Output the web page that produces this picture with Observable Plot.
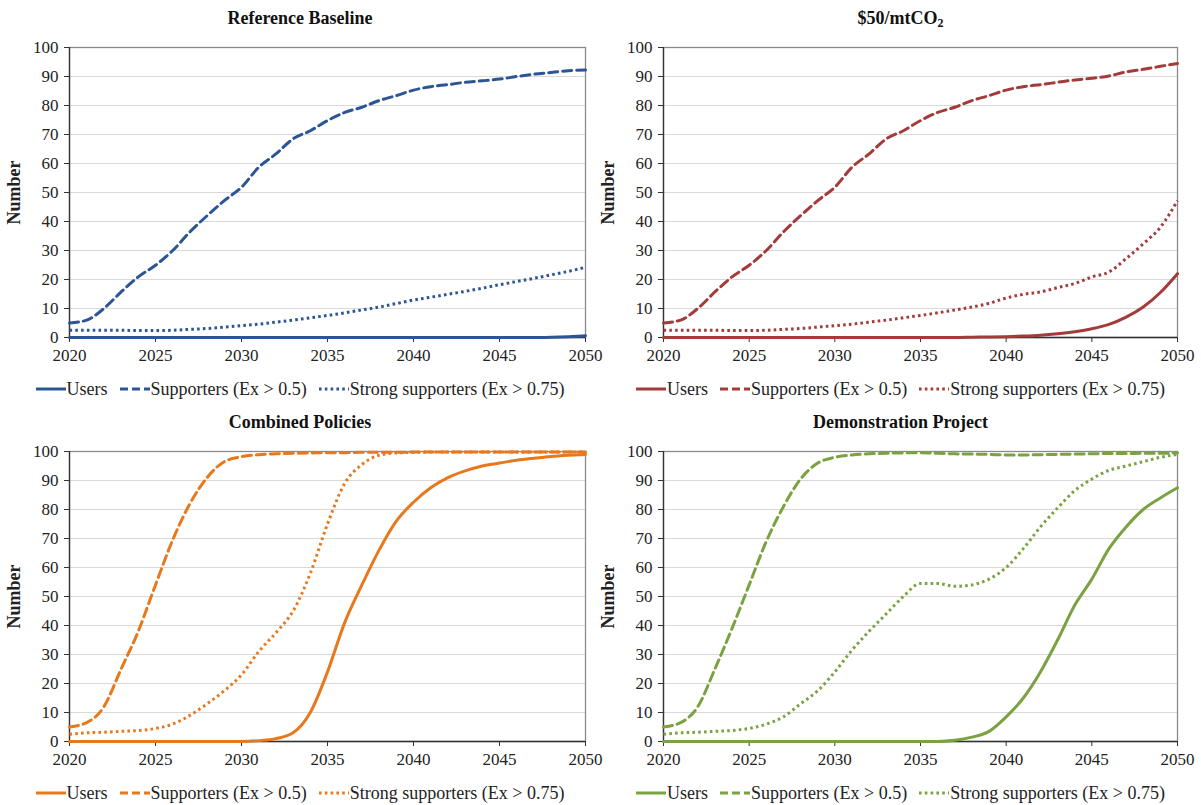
<!DOCTYPE html>
<html>
<head>
<meta charset="utf-8">
<script src="https://cdn.jsdelivr.net/npm/d3@7"></script>
<script src="https://cdn.jsdelivr.net/npm/@observablehq/plot@0.6"></script>
<style>
  body { margin: 0; background: #fff; font-family: "Liberation Serif", "Times New Roman", serif; }
  #root { position: relative; width: 1201px; height: 805px; overflow: hidden; background: #fff; }
  .panel { position: absolute; height: 404px; }
  .title { position: absolute; left: 0; right: 0; text-align: center; font-weight: bold; font-size: 18px; color: #111; line-height: 20px; }
  .title sub { font-size: 12px; vertical-align: -3px; line-height: 0; }
  .plotwrap { position: absolute; left: 0; }
  .legend { position: absolute; left: 0; right: 0; display: flex; justify-content: center; align-items: center; font-size: 18px; color: #222; line-height: 20px; white-space: nowrap; }
  .legend .item { display: flex; align-items: center; margin: 0 6px; }
  .legend svg { display: block; margin-right: 1px; }
  #root svg text { font-family: "Liberation Serif", "Times New Roman", serif !important; }
  #root svg [aria-label="y-axis tick label"] text, #root svg [aria-label="x-axis tick label"] text { font-size: 17px; }
  #root svg [aria-label="y-axis label"] text { font-weight: bold; font-size: 18px; }
</style>
</head>
<body>
<div id="root"></div>
<script>
// ---------- data ----------
const years = [2020,2021,2022,2023,2024,2025,2026,2027,2028,2029,2030,2031,2032,2033,2034,2035,2036,2037,2038,2039,2040,2041,2042,2043,2044,2045,2046,2047,2048,2049,2050];
const xTicks = [2020,2025,2030,2035,2040,2045,2050];
const yTicks = [0,10,20,30,40,50,60,70,80,90,100];
const seriesNames = ["Users", "Supporters (Ex > 0.5)", "Strong supporters (Ex > 0.75)"];
const panelTitles = ["Reference Baseline", "$50/mtCO<sub>2</sub>", "Combined Policies", "Demonstration Project"];
const panelColors = ["#2C5596", "#A23B3A", "#E8781C", "#7AA240"];

// Reference Baseline
const baseUsers  = [0,0,0,0,0,0,0,0,0,0,0,0,0,0,0,0,0,0,0,0,0,0,0,0,0,0,0,0,0.1,0.3,0.6];
const baseSupp   = [5,6,10,15.7,20.9,24.9,30,36.4,42,47.2,51.8,58.7,63.3,68.5,71.3,74.8,77.6,79.4,81.7,83.4,85.3,86.5,87.2,88,88.5,89.1,90,90.8,91.4,92,92.2];
const baseStrong = [2.5,2.5,2.5,2.5,2.4,2.4,2.5,2.8,3.1,3.6,4.1,4.6,5.3,6,6.8,7.6,8.5,9.5,10.5,11.7,12.9,13.9,14.9,15.9,17,18.2,19.3,20.4,21.6,22.8,24.2];

// $50/mtCO2
const c50Users  = [0,0,0,0,0,0,0,0,0,0,0,0,0,0,0,0,0,0,0.1,0.2,0.3,0.5,0.8,1.3,2,3,4.5,7,10.5,15.5,22];
const c50Supp   = [5,6,10,15.7,20.9,24.9,30,36.4,42,47.2,51.8,58.7,63.3,68.5,71.3,74.8,77.6,79.4,81.7,83.4,85.3,86.5,87.2,88,88.8,89.4,90.2,91.6,92.5,93.5,94.5];
const c50Strong = [2.5,2.5,2.5,2.5,2.4,2.4,2.5,2.8,3.1,3.6,4.1,4.6,5.3,6,6.8,7.6,8.5,9.5,10.5,11.8,13.6,14.9,15.7,17.2,18.6,20.9,22.6,27.2,32.3,38,47.2];

// Combined Policies
const combUsers  = [0,0,0,0,0,0,0,0,0,0,0,0.3,1,3,10,24,41,54,66,76,82.5,87.5,91,93.3,95,96,97,97.7,98.3,98.7,99];
const combSupp   = [5,6.5,12,25,38,54,69.5,82,91,96.5,98.2,98.9,99.2,99.4,99.5,99.6,99.6,99.7,99.7,99.7,99.8,99.8,99.8,99.8,99.8,99.8,99.8,99.8,99.8,99.8,99.8];
const combStrong = [2.5,3,3.2,3.5,3.8,4.5,6,9,13,17.5,23,31,37.5,45,58,75,89,95.5,98.7,99.5,99.7,99.8,99.8,99.8,99.8,99.8,99.8,99.8,99.8,99.8,99.8];

// Demonstration Project
const demoUsers  = [0,0,0,0,0,0,0,0,0,0,0,0,0,0,0,0,0,0.4,1.5,3.5,8.5,15,24,35,47,56,66.5,74,80,84,87.5];
const demoSupp   = [5,6.5,12,25,39,54,69,81,90.5,96,98,98.8,99.2,99.4,99.5,99.6,99.4,99.2,99.1,99,98.8,98.8,98.9,99,99.1,99.2,99.3,99.3,99.4,99.4,99.5];
const demoStrong = [2.5,3,3.2,3.5,3.8,4.5,6,8.5,13,17.5,24,31.5,38,44,50,54.5,54.5,53.5,54,56,60,66.5,74,80.5,86.5,90.5,93.5,95,96.5,98,99];

// ---------- layout ----------
const dashStyles = [null, "9,5", "2.6,3.2"];
const panels = [
  {left: 0,   top: 0,   width: 600, ml: 69, mr: 15, series: [baseUsers, baseSupp, baseStrong]},
  {left: 600, top: 0,   width: 601, ml: 63, mr: 24, series: [c50Users, c50Supp, c50Strong]},
  {left: 0,   top: 404, width: 600, ml: 69, mr: 15, series: [combUsers, combSupp, combStrong]},
  {left: 600, top: 404, width: 601, ml: 63, mr: 24, series: [demoUsers, demoSupp, demoStrong]}
];

const root = document.getElementById("root");

panels.forEach((p, pi) => {
  const color = panelColors[pi];
  const div = document.createElement("div");
  div.className = "panel";
  div.style.left = p.left + "px";
  div.style.top = p.top + "px";
  div.style.width = p.width + "px";

  const title = document.createElement("div");
  title.className = "title";
  title.style.top = "8px";
  title.innerHTML = panelTitles[pi];
  div.appendChild(title);

  const lineMarks = p.series.map((vals, si) => {
    const rows = years.map((yr, i) => ({year: yr, value: vals[i]}));
    const opts = {x: "year", y: "value", stroke: color, strokeWidth: 3, curve: "monotone-x"};
    if (dashStyles[si]) opts.strokeDasharray = dashStyles[si];
    if (si === 2) opts.strokeLinecap = "butt";
    return Plot.line(rows, opts);
  });

  const chart = Plot.plot({
    width: p.width,
    height: 340,
    marginTop: 17,
    marginBottom: 33,
    marginLeft: p.ml,
    marginRight: p.mr,
    style: {fontFamily: '"Liberation Serif", "Times New Roman", serif', fontSize: "17px", color: "#222", background: "transparent", overflow: "visible"},
    x: {domain: [2020, 2050]},
    y: {domain: [0, 100]},
    marks: [
      Plot.gridY(yTicks, {stroke: "#d9d9d9", strokeOpacity: 1, strokeWidth: 1}),
      Plot.frame({stroke: "#8a8a8a", strokeWidth: 1.3}),
      Plot.axisY(yTicks, {tickSize: 5, tickPadding: 6, stroke: "#333", fontSize: 17, label: "Number", labelAnchor: "center", labelOffset: 62, labelArrow: "none"}),
      Plot.axisX(xTicks, {tickSize: 5, tickPadding: 6, stroke: "#333", fontSize: 17, tickFormat: d => String(d), label: null}),
      Plot.ruleX([2020], {stroke: "#333", strokeWidth: 1.3}),
      Plot.ruleY([0], {stroke: "#333", strokeWidth: 1.3}),
      ...lineMarks
    ]
  });
  const wrap = document.createElement("div");
  wrap.className = "plotwrap";
  wrap.style.top = "30px";
  wrap.appendChild(chart);
  div.appendChild(wrap);

  const legend = document.createElement("div");
  legend.className = "legend";
  legend.style.top = "379px";
  seriesNames.forEach((name, si) => {
    const item = document.createElement("div");
    item.className = "item";
    const dash = dashStyles[si] ? `stroke-dasharray="${si === 1 ? "8,4" : "2.6,3.2"}"` : "";
    item.innerHTML = `<svg width="30" height="10"><line x1="0" x2="30" y1="5" y2="5" stroke="${color}" stroke-width="3" ${dash}></line></svg><span>${name.replace(/>/g, "&gt;")}</span>`;
    legend.appendChild(item);
  });
  div.appendChild(legend);

  root.appendChild(div);
});
</script>
</body>
</html>
